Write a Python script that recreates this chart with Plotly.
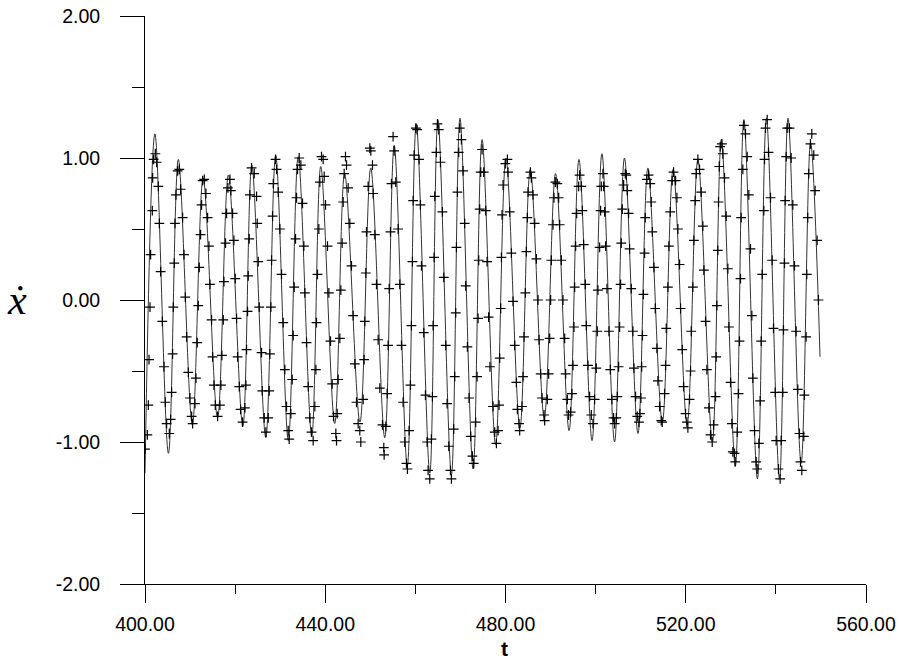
import plotly.graph_objects as go

# ---- data ----
# fitted curve: start point, successive extrema, end point
line_t = [400.0, 402.2, 405.2, 407.4, 410.5, 412.9, 416.1, 418.5, 421.7, 423.7,
          426.8, 429.0, 431.8, 434.0, 437.0, 439.0, 442.1, 444.3, 447.7, 450.1,
          453.2, 455.3, 458.2, 460.2, 463.2, 465.0, 468.0, 469.9, 472.8, 474.8,
          477.8, 480.1, 483.2, 485.5, 488.6, 491.1, 494.1, 496.3, 499.2, 501.4,
          504.2, 506.4, 509.4, 511.6, 514.8, 517.2, 520.3, 522.7, 525.9, 527.9,
          531.0, 532.9, 535.9, 537.9, 540.8, 542.7, 545.6, 547.7, 549.8]
line_y = [-1.22, 1.17, -1.08, 0.99, -0.88, 0.86, -0.83, 0.88, -0.89, 0.95,
          -0.97, 1.02, -0.99, 1.01, -0.96, 0.94, -0.87, 0.89, -0.86, 0.93,
          -0.97, 1.09, -1.17, 1.24, -1.22, 1.27, -1.23, 1.28, -1.19, 1.13,
          -1.02, 1.00, -0.90, 0.92, -0.83, 0.89, -0.92, 0.99, -0.99, 1.03,
          -1.00, 1.00, -0.94, 0.93, -0.86, 0.92, -0.88, 0.99, -1.00, 1.13,
          -1.17, 1.27, -1.26, 1.28, -1.26, 1.28, -1.15, 1.11, -0.40]

# sampled points (+ markers)
marker_t = [
    400.00, 400.52, 400.74, 400.89, 401.11, 401.25, 401.62, 401.70, 401.92, 402.29,
    402.59, 402.96, 403.18, 403.47, 403.84, 404.21, 404.51, 404.80, 405.39, 405.69,
    405.91, 406.13, 406.28, 406.50, 406.65, 406.87, 407.24, 407.61, 407.91, 408.35,
    408.65, 408.94, 409.24, 409.61, 409.98, 410.35, 410.57, 411.09, 411.31, 411.60,
    411.82, 412.05, 412.34, 412.56, 412.79, 413.15, 413.52, 413.89, 414.19, 414.41,
    414.78, 415.00, 415.30, 415.59, 416.11, 416.63, 416.85, 417.07, 417.37, 417.52,
    417.88, 418.11, 418.40, 418.85, 419.07, 419.44, 419.73, 420.03, 420.32, 420.55,
    420.91, 421.21, 421.65, 422.17, 422.39, 422.54, 422.76, 422.91, 423.13, 423.28,
    423.65, 424.24, 424.76, 424.91, 425.13, 425.35,
    425.87, 426.02, 426.46, 426.83, 427.35, 427.57, 427.72, 427.94, 428.09, 428.31,
    428.46, 428.97, 429.19, 429.56, 429.93, 430.30, 430.67, 431.04, 431.41, 431.78,
    432.00, 432.37, 432.67, 432.89, 433.11, 433.41, 433.63, 433.85, 434.22, 434.59,
    434.96, 435.25, 435.48, 435.85, 436.22, 436.59, 436.95, 437.32, 437.69, 437.92,
    438.06, 438.28, 438.58, 438.80, 439.17, 439.54, 439.76, 440.06, 440.50, 440.80,
    441.17, 441.54, 441.83, 442.35, 442.50, 442.65, 442.87, 443.24, 443.46, 443.75,
    443.98, 444.20, 444.49, 444.72, 445.08, 445.45, 445.82, 446.19, 446.56, 446.93,
    447.30, 447.67, 447.89, 448.41, 448.63, 448.78, 449.00, 449.15, 449.52, 449.89,
    450.11,
    450.48, 450.63, 451.00, 451.37, 451.74, 452.11, 452.70, 452.99, 453.07, 453.44,
    453.73, 453.95, 454.18, 454.47, 454.69, 455.06, 455.29, 455.65, 456.17, 456.54,
    456.91, 457.28, 457.65, 458.02, 458.24, 458.61, 458.91, 459.13, 459.35, 459.50,
    459.72, 460.09, 460.38, 460.83, 461.12, 461.35, 461.86, 462.23, 462.60, 462.82,
    463.19, 463.56, 463.78, 463.93, 464.15, 464.30, 464.67, 464.89, 465.19, 465.56,
    466.00, 466.30, 466.74, 467.04, 467.41, 467.78, 468.00, 468.51, 468.74, 468.96,
    469.11, 469.33, 469.62, 469.85, 470.21, 470.58, 470.95, 471.17, 471.54, 471.91,
    472.28, 472.65, 472.95, 473.39, 473.69, 473.91, 474.06, 474.28, 474.50, 474.80,
    475.17, 475.61, 475.91, 476.25, 476.55,
    477.24, 477.61, 477.98, 478.35, 478.57, 478.72, 478.94, 479.09, 479.23, 479.46,
    479.97, 480.42, 480.56, 480.93, 481.30, 481.67, 482.04, 482.41, 482.63, 483.00,
    483.15, 483.67, 483.89, 484.11, 484.41, 484.63, 484.85, 485.00, 485.52, 485.74,
    486.11, 486.48, 486.85, 487.22, 487.44, 487.81, 488.10, 488.55, 488.69, 489.28,
    489.58, 489.80, 490.02, 490.17, 490.54, 490.76, 491.06, 491.50, 491.80, 492.02,
    492.39, 492.76, 493.13, 493.35, 493.72, 494.01, 494.46, 494.75, 494.98, 495.20,
    495.35, 495.57, 495.79, 496.23, 496.45, 496.82, 497.05, 497.34, 497.71, 497.93,
    498.30, 498.67, 499.04, 499.41, 499.78, 500.15, 500.37, 500.52, 500.89, 501.11,
    501.26, 501.63,
    501.78, 502.00, 502.22, 502.52, 502.96, 503.25, 503.62, 503.99, 504.22, 504.59,
    504.81, 505.10, 505.32, 505.55, 505.69, 505.92, 506.21, 506.58, 506.80, 507.02,
    507.32, 507.54, 507.91, 508.28, 508.50, 508.87, 509.24, 509.61, 509.83, 510.05,
    510.22, 510.40, 510.60, 510.87, 511.01, 511.38, 511.75, 512.12, 512.34, 512.57,
    512.94, 513.23, 513.60, 513.82, 514.19, 514.56, 514.78, 515.30, 515.52, 515.67,
    516.04, 516.26, 516.56, 517.00, 517.30, 517.74, 518.04, 518.26, 518.63, 518.85,
    519.22, 519.51, 519.96, 520.25, 520.47, 520.84, 521.07, 521.21, 521.58, 521.81,
    522.10, 522.32, 522.69, 523.06, 523.43, 523.80, 524.02, 524.39, 524.69, 525.13,
    525.50, 525.87, 526.17, 526.61, 526.76, 526.91, 527.13, 527.27, 527.42,
    527.65, 528.02, 528.24, 528.61, 528.98, 529.35, 529.57, 529.94, 530.23, 530.45,
    530.82, 530.97, 531.42, 531.71, 531.93, 532.15, 532.30, 532.67, 532.89, 533.26,
    533.63, 534.00, 534.37, 534.67, 534.89, 535.26, 535.63, 535.85, 536.22, 536.51,
    536.74, 536.96, 537.33, 537.48, 537.70, 538.07, 538.36, 538.81, 539.18, 539.47,
    539.84, 540.06, 540.58, 540.95, 541.17, 541.54, 541.69, 541.91, 542.06, 542.28,
    542.50, 543.02, 543.39, 543.76, 544.13, 544.50, 544.87, 545.23, 545.46, 545.75,
    546.20, 546.34, 546.71, 546.86, 547.08, 547.30, 547.67, 547.97, 548.41, 548.71,
    549.15, 549.45,
]
marker_y = [
    -1.05, -0.95, -0.74, -0.42, -0.05, 0.32, 0.63, 0.86, 0.99, 1.03,
    0.97, 0.80, 0.54, 0.20, -0.15, -0.47, -0.72, -0.87, -0.94, -0.84,
    -0.65, -0.38, -0.05, 0.26, 0.54, 0.74, 0.91, 0.92, 0.78, 0.58,
    0.32, 0.02, -0.26, -0.51, -0.69, -0.82, -0.87, -0.73, -0.55, -0.30,
    -0.04, 0.23, 0.46, 0.67, 0.84, 0.85, 0.75, 0.58, 0.38, 0.11,
    -0.14, -0.40, -0.60, -0.74, -0.82, -0.74, -0.60, -0.39, -0.14, 0.13,
    0.40, 0.61, 0.79, 0.85, 0.77, 0.61, 0.42, 0.15, -0.13, -0.40,
    -0.61, -0.77, -0.86, -0.76, -0.60, -0.35, -0.08, 0.17, 0.43, 0.74,
    0.93, 0.89, 0.73, 0.54, 0.27, -0.05,
    -0.37, -0.64, -0.83, -0.93, -0.83, -0.64, -0.38, -0.05, 0.28, 0.59,
    0.82, 0.99, 0.92, 0.76, 0.50, 0.18, -0.16, -0.49, -0.75, -0.92,
    -0.98, -0.80, -0.56, -0.25, 0.09, 0.43, 0.72, 0.92, 1.00, 0.95,
    0.68, 0.38, 0.05, -0.30, -0.61, -0.83, -0.93, -0.99, -0.75, -0.49,
    -0.16, 0.18, 0.50, 0.83, 1.01, 0.99, 0.87, 0.67, 0.38, 0.05,
    -0.29, -0.59, -0.82, -0.94, -0.99, -0.80, -0.56, -0.27, 0.07, 0.40,
    0.69, 0.89, 1.01, 0.95, 0.79, 0.54, 0.24, -0.11, -0.45, -0.72,
    -0.87, -0.92, -1.00, -0.70, -0.42, -0.15, 0.19, 0.48, 0.80, 1.07,
    1.05,
    0.95, 0.75, 0.46, 0.11, -0.28, -0.62, -0.88, -1.04, -1.09, -0.89,
    -0.66, -0.32, 0.08, 0.48, 0.82, 1.15, 1.05, 0.83, 0.50, 0.11,
    -0.32, -0.72, -1.00, -1.15, -1.19, -0.92, -0.60, -0.18, 0.27, 0.70,
    1.02, 1.21, 1.20, 0.99, 0.67, 0.24, -0.23, -0.67, -1.00, -1.20,
    -1.26, -0.98, -0.68, -0.18, 0.30, 0.73, 1.04, 1.24, 1.20, 0.97,
    0.62, 0.16, -0.32, -0.73, -1.03, -1.20, -1.26, -0.91, -0.54, -0.09,
    0.37, 0.76, 1.04, 1.21, 1.13, 0.91, 0.54, 0.10, -0.33, -0.69,
    -0.96, -1.10, -1.15, -0.86, -0.54, -0.13, 0.28, 0.64, 0.90, 1.06,
    0.90, 0.63, 0.27, -0.12, -0.47,
    -0.75, -0.93, -1.01, -0.92, -0.74, -0.41, -0.06, 0.30, 0.60, 0.81,
    0.96, 0.99, 0.90, 0.62, 0.33, -0.01, -0.32, -0.58, -0.77, -0.87,
    -0.92, -0.75, -0.54, -0.26, 0.05, 0.34, 0.58, 0.76, 0.90, 0.86,
    0.74, 0.54, 0.29, 0.00, -0.28, -0.52, -0.69, -0.81, -0.85, -0.70,
    -0.52, -0.27, 0.00, 0.28, 0.53, 0.72, 0.83, 0.82, 0.72, 0.53,
    0.28, 0.00, -0.27, -0.52, -0.70, -0.81, -0.79, -0.66, -0.46, -0.19,
    0.09, 0.38, 0.61, 0.80, 0.88, 0.80, 0.63, 0.39, 0.11, -0.18,
    -0.46, -0.68, -0.81, -0.87, -0.70, -0.48, -0.22, 0.07, 0.37, 0.63,
    0.80, 0.89,
    0.80, 0.62, 0.38, 0.08, -0.22, -0.49, -0.70, -0.83, -0.87, -0.83,
    -0.68, -0.47, -0.19, 0.11, 0.40, 0.64, 0.81, 0.89, 0.88, 0.77,
    0.61, 0.36, 0.08, -0.22, -0.48, -0.68, -0.82, -0.86, -0.80, -0.69,
    -0.47, -0.25, 0.04, 0.33, 0.58, 0.85, 0.88, 0.82, 0.69, 0.48,
    0.23, -0.06, -0.34, -0.57, -0.75, -0.85, -0.86, -0.66, -0.46, -0.20,
    0.09, 0.38, 0.62, 0.84, 0.90, 0.84, 0.72, 0.50, 0.25, -0.06,
    -0.35, -0.61, -0.80, -0.86, -0.90, -0.70, -0.50, -0.22, 0.09, 0.42,
    0.70, 0.89, 0.99, 0.92, 0.76, 0.52, 0.21, -0.15, -0.49, -0.76,
    -0.95, -1.00, -0.88, -0.68, -0.40, -0.04, 0.35, 0.69, 0.94,
    1.08, 1.10, 1.03, 0.86, 0.59, 0.22, -0.19, -0.58, -0.87, -1.07,
    -1.08, -1.14, -0.93, -0.66, -0.29, 0.15, 0.58, 0.92, 1.23, 1.17,
    1.01, 0.74, 0.36, -0.11, -0.55, -0.92, -1.14, -1.19, -1.01, -0.71,
    -0.29, 0.18, 0.63, 0.99, 1.21, 1.27, 1.04, 0.72, 0.28, -0.20,
    -0.65, -0.99, -1.19, -1.26, -0.99, -0.65, -0.21, 0.26, 0.70, 1.01,
    1.21, 1.21, 1.00, 0.67, 0.24, -0.22, -0.63, -0.94, -1.14, -1.20,
    -0.96, -0.67, -0.26, 0.18, 0.58, 0.89, 1.10, 1.17, 1.02, 0.77,
    0.42, 0.00,
]

x_ticks = [400, 440, 480, 520, 560]
x_ticktext = ["400.00", "440.00", "480.00", "520.00", "560.00"]
x_minor = [420, 460, 500, 540]
y_ticks = [-2, -1, 0, 1, 2]
y_ticktext = ["-2.00", "-1.00", "0.00", "1.00", "2.00"]
y_minor = [-1.5, -0.5, 0.5, 1.5]

fig = go.Figure()
fig.add_trace(go.Scatter(
    x=line_t, y=line_y, mode="lines",
    line=dict(color="#333333", width=1.0, shape="spline", smoothing=1.0),
    hoverinfo="skip", showlegend=False))
fig.add_trace(go.Scatter(
    x=marker_t, y=marker_y, mode="markers",
    marker=dict(symbol="cross-thin", size=7, color="black",
                line=dict(color="black", width=1.2)),
    showlegend=False))

tickfont = dict(family="Liberation Sans, Arial, sans-serif", size=19.5, color="black")
fig.update_layout(
    width=900, height=663,
    margin=dict(l=145, r=34, t=16, b=79, autoexpand=False),
    paper_bgcolor="white", plot_bgcolor="white",
    xaxis=dict(range=[400, 560], tickvals=x_ticks, ticktext=x_ticktext,
               ticks="outside", ticklen=18, tickwidth=1, tickcolor="black",
               showline=True, linecolor="black", linewidth=1,
               showgrid=False, zeroline=False, tickfont=tickfont,
               ticklabelstandoff=5, automargin=False,
               minor=dict(tickvals=x_minor, ticks="outside", ticklen=9,
                          tickwidth=1, tickcolor="black", showgrid=False)),
    yaxis=dict(range=[-2, 2], tickvals=y_ticks, ticktext=y_ticktext,
               ticks="outside", ticklen=24, tickwidth=1, tickcolor="black",
               showline=True, linecolor="black", linewidth=1,
               showgrid=False, zeroline=False, tickfont=tickfont,
               ticklabelstandoff=16, automargin=False,
               minor=dict(tickvals=y_minor, ticks="outside", ticklen=12,
                          tickwidth=1, tickcolor="black", showgrid=False)),
    annotations=[
        dict(text="<b>t</b>", xref="paper", yref="paper", x=0.4993, y=-0.1135,
             xanchor="center", yanchor="middle", showarrow=False, borderpad=0,
             font=dict(family="Liberation Sans, Arial, sans-serif", size=21, color="black")),
        dict(text="<i>ẋ</i>", xref="paper", yref="paper", x=-0.178, y=0.5,
             xanchor="center", yanchor="middle", showarrow=False,
             font=dict(family="Liberation Serif, DejaVu Serif, serif", size=42, color="black")),
    ],
)

fig.write_html("out.html")
